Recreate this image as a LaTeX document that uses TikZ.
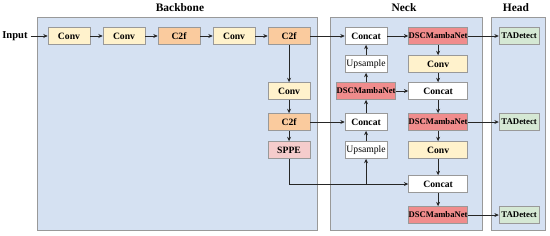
\documentclass[tikz,border=0pt]{standalone}
\usepackage{fontspec}
\setmainfont{Liberation Serif}
\usepackage{xcolor}
\usetikzlibrary{positioning, arrows.meta}

\definecolor{panelblue}{HTML}{D5E1F2}
\definecolor{convyellow}{HTML}{FFF2CC}
\definecolor{c2forange}{HTML}{FACB9E}
\definecolor{sppepink}{HTML}{F5CCCC}
\definecolor{mambared}{HTML}{F08C8C}
\definecolor{detgreen}{HTML}{D5E8D4}

\begin{document}
\begin{tikzpicture}[x=0.04cm,y=0.04cm,>={Stealth[length=5pt,width=4.5pt]},
    node distance=2.2cm,
    every edge/.style={draw,->,line width=1.1pt,black!85},
    link/.style={draw,->,line width=1.1pt,black!85},
    box/.style={draw=black!40,line width=0.7pt,minimum width=1.68cm,minimum height=0.68cm,inner sep=0pt,
                font=\fontsize{11}{13}\selectfont\bfseries},
    widebox/.style={box,minimum width=2.36cm},
    conv/.style={box,fill=convyellow},
    c2f/.style={box,fill=c2forange},
    sppe/.style={box,fill=sppepink},
    concat/.style={box,fill=white},
    upsample/.style={box,fill=white,font=\fontsize{11}{13}\selectfont},
    mamba/.style={widebox,fill=mambared,font=\fontsize{9.8}{12}\selectfont\bfseries},
    detect/.style={box,minimum width=1.6cm,fill=detgreen,font=\fontsize{10}{12}\selectfont\bfseries},
    panel/.style={draw=black!40,line width=0.7pt,fill=panelblue},
    title/.style={font=\fontsize{13}{15}\selectfont\bfseries}]
    \useasboundingbox (0,0) rectangle (550,-236);

    % panels
    \draw[panel] (37,-17) rectangle (317,-230);
    \draw[panel] (330,-17) rectangle (482,-230);
    \draw[panel] (491,-17) rectangle (545,-230);
    \node[title] (bbtitle) at (180,-8) {Backbone};
    \node[title] (necktitle) at (404,-8) {Neck};
    \node[title] (headtitle) at (516,-8) {Head};

    % backbone
    \node[font=\fontsize{12}{14}\selectfont\bfseries] (input) at (15,-36) {Input};
    \node[conv] (conv1) [node distance=2.16cm, right of=input] {Conv};
    \node[conv] (conv2) [right of=conv1] {Conv};
    \node[c2f] (c2f1) [right of=conv2] {C2f};
    \node[conv] (conv3) [right of=c2f1] {Conv};
    \node[c2f] (c2f2) [right of=conv3] {C2f};
    \node[conv] (conv4) [below of=c2f2] {Conv};
    \node[c2f] (c2f3) [node distance=1.24cm, below of=conv4] {C2f};
    \node[sppe] (sppe) [node distance=1.12cm, below of=c2f3] {SPPE};

    % neck
    \node[concat] (concat1) [node distance=3.08cm, right of=c2f2] {Concat};
    \node[upsample] (upsample1) [node distance=1.12cm, below of=concat1] {Upsample};
    \node[mamba] (mamba2) [node distance=1.08cm, below of=upsample1] {DSCMambaNet};
    \node[concat] (concat3) [node distance=1.24cm, below of=mamba2] {Concat};
    \node[upsample] (upsample2) [node distance=1.12cm, below of=concat3] {Upsample};
    \node[mamba] (mamba1) [node distance=2.88cm, right of=concat1] {DSCMambaNet};
    \node[conv, widebox] (conv5) [node distance=1.12cm, below of=mamba1] {Conv};
    \node[concat, widebox] (concat2) [node distance=1.08cm, below of=conv5] {Concat};
    \node[mamba] (mamba3) [node distance=1.24cm, below of=concat2] {DSCMambaNet};
    \node[conv, widebox] (conv6) [node distance=1.12cm, below of=mamba3] {Conv};
    \node[concat, widebox] (concat4) [node distance=1.36cm, below of=conv6] {Concat};
    \node[mamba] (mamba4) [node distance=1.24cm, below of=concat4] {DSCMambaNet};

    % head
    \node[detect] (detect1) [node distance=3.24cm, right of=mamba1] {TADetect};
    \node[detect] (detect2) [node distance=3.24cm, right of=mamba3] {TADetect};
    \node[detect] (detect3) [node distance=3.24cm, right of=mamba4] {TADetect};

    \coordinate (split) at (upsample2.south |- concat4.west);

    \path (input) edge (conv1)
          (conv1) edge (conv2)
          (conv2) edge (c2f1)
          (c2f1) edge (conv3)
          (conv3) edge (c2f2)
          (c2f2) edge (concat1)
          (c2f2) edge (conv4)
          (conv4) edge (c2f3)
          (c2f3) edge (sppe)
          (c2f3) edge (concat3)
          (split) edge (upsample2)
          (upsample2) edge (concat3)
          (concat3) edge (mamba2)
          (mamba2) edge (upsample1)
          (upsample1) edge (concat1)
          (mamba2) edge (concat2)
          (concat1) edge (mamba1)
          (mamba1) edge (detect1)
          (mamba1) edge (conv5)
          (conv5) edge (concat2)
          (concat2) edge (mamba3)
          (mamba3) edge (detect2)
          (mamba3) edge (conv6)
          (conv6) edge (concat4)
          (concat4) edge (mamba4)
          (mamba4) edge (detect3);
    \draw[link] (sppe.south) |- (concat4.west);
\end{tikzpicture}
\end{document}
